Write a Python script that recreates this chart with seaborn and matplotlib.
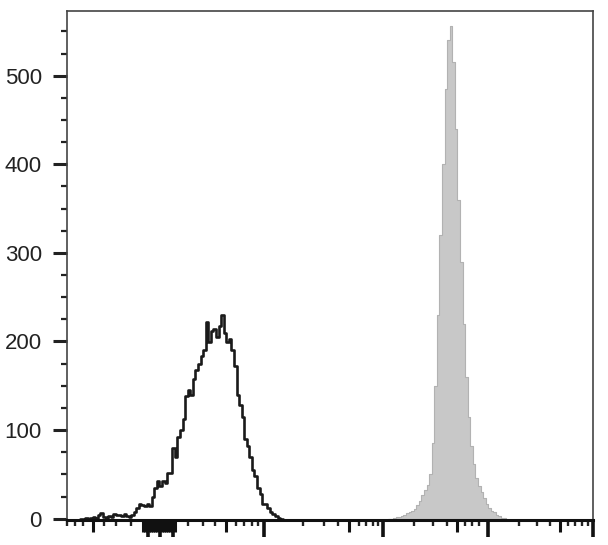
import numpy as np
import pandas as pd
import matplotlib
matplotlib.use('Agg')
import matplotlib.pyplot as plt
import seaborn as sns

# Histogram data in display channels (0-1024), bin width 5
black_start = 25
black_counts = [0, 0, 1, 0, 1, 2, 1, 4, 6, 2, 1, 3, 2, 5, 4, 4, 3, 5, 3, 2,
                4, 8, 12, 17, 15, 14, 16, 14, 25, 35, 42, 37, 43, 40, 52, 51,
                80, 70, 92, 100, 112, 139, 145, 140, 158, 168, 175, 184, 190,
                222, 199, 212, 214, 205, 218, 230, 210, 199, 203, 190, 172,
                140, 128, 115, 90, 82, 70, 55, 48, 35, 28, 17, 16, 12, 8, 5,
                3, 1, 0]

grey_start = 625
grey_counts = [0, 0, 1, 2, 2, 3, 4, 6, 7, 9, 11, 15, 20, 27, 32, 38, 50, 85,
               150, 230, 320, 400, 485, 540, 556, 515, 440, 360, 290, 220,
               160, 115, 82, 62, 46, 37, 30, 23, 16, 12, 9, 7, 4, 3, 1, 1]

# Axis ticks (channel positions)
y_major = [0, 100, 200, 300, 400, 500]
y_labels = ['0', '100', '200', '300', '400', '500']
y_minor = [25, 50, 75, 125, 150, 175, 225, 250, 275, 325, 350, 375,
           425, 450, 475, 525, 550]
x_long = [158, 181, 206, 384, 615, 820, 1024]
x_mid = [51, 148, 152, 156, 160, 164, 168, 172, 176, 184, 188, 192, 196,
         200, 204, 210, 310, 549, 759, 960]
x_short = [0, 16, 31, 72, 95, 125, 236, 265, 288, 329, 345, 360, 372,
           459, 500, 528, 568, 582, 596, 606, 676, 713, 740, 775, 788, 802,
           880, 915, 940, 975, 989, 1003, 1014]

sns.set_style('ticks')
plt.rcParams['font.family'] = ['Liberation Sans', 'DejaVu Sans']

fig = plt.figure(figsize=(6.08, 5.45), dpi=100)
ax = fig.add_axes([67 / 608, 25 / 545, 526 / 608, 509 / 545])

g_edges = [grey_start + 5 * i for i in range(len(grey_counts) + 1)]
grey = pd.DataFrame({'ch': [e + 2.5 for e in g_edges[:-1]], 'n': grey_counts})
sns.histplot(data=grey, x='ch', weights='n', bins=g_edges,
             element='step', fill=True, color='#c8c8c8', alpha=1,
             edgecolor='#b2b2b2', linewidth=0.8, ax=ax)

b_edges = [black_start + 5 * i for i in range(len(black_counts) + 1)]
black = pd.DataFrame({'ch': [e + 2.5 for e in b_edges[:-1]], 'n': black_counts})
sns.histplot(data=black, x='ch', weights='n', bins=b_edges,
             element='step', fill=False, color='#1a1a1a', linewidth=1.9, ax=ax)

ax.set_xlim(0, 1024)
ax.set_ylim(-1.5, 573)
ax.set_xlabel('')
ax.set_ylabel('')

ax.set_yticks(y_major, y_labels)
ax.set_yticks(y_minor, minor=True)
ax.tick_params(axis='y', which='major', length=10, width=2.2, pad=8,
               labelsize=16, labelcolor='#222222', color='#222222')
ax.tick_params(axis='y', which='minor', length=4, width=1.6, color='#222222')

ax.set_xticks(x_long)
ax.set_xticks(x_short, minor=True)
ax.tick_params(axis='x', which='major', length=12, width=2.6,
               labelbottom=False, color='#111111')
ax.tick_params(axis='x', which='minor', length=4.5, width=1.7, color='#222222')

sec = ax.secondary_xaxis('bottom')
sec.set_xticks(x_mid)
sec.tick_params(axis='x', length=8.5, width=2.2, labelbottom=False, color='#111111')
sec.spines['bottom'].set_visible(False)

for side in ['top', 'right', 'left']:
    ax.spines[side].set_color('#444444')
    ax.spines[side].set_linewidth(1.2)
ax.spines['bottom'].set_color('#111111')
ax.spines['bottom'].set_linewidth(2.2)

fig.savefig('out.png', dpi=100)
